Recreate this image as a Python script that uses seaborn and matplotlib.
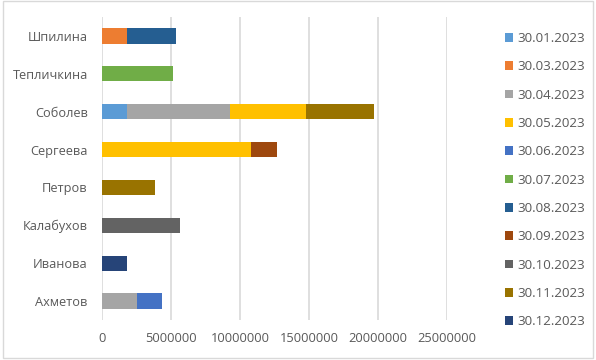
import matplotlib
matplotlib.use("Agg")
import matplotlib.pyplot as plt
import seaborn as sns
import numpy as np
import pandas as pd
from matplotlib.patches import Rectangle, Patch

categories = ["Шпилина", "Тепличкина", "Соболев", "Сергеева", "Петров", "Калабухов", "Иванова", "Ахметов"]
series_names = ["30.01.2023", "30.03.2023", "30.04.2023", "30.05.2023", "30.06.2023", "30.07.2023",
                "30.08.2023", "30.09.2023", "30.10.2023", "30.11.2023", "30.12.2023"]
#            Шпилина  Теплич   Соболев  Сергеева Петров   Калабух  Иванова  Ахметов
s_0101 = [0,       0,       1830000, 0,       0,       0,       0,       0]
s_0103 = [1830000, 0,       0,       0,       0,       0,       0,       0]
s_0104 = [0,       0,       7470000, 0,       0,       0,       0,       2560000]
s_0105 = [0,       0,       5500000, 10820000, 0,      0,       0,       0]
s_0106 = [0,       0,       0,       0,       0,       0,       0,       1810000]
s_0107 = [0,       5170000, 0,       0,       0,       0,       0,       0]
s_0108 = [3550000, 0,       0,       0,       0,       0,       0,       0]
s_0109 = [0,       0,       0,       1880000, 0,       0,       0,       0]
s_0110 = [0,       0,       0,       0,       0,       5670000, 0,       0]
s_0111 = [0,       0,       4930000, 0,       3860000, 0,       0,       0]
s_0112 = [0,       0,       0,       0,       0,       0,       1830000, 0]
series_values = [s_0101, s_0103, s_0104, s_0105, s_0106, s_0107, s_0108, s_0109, s_0110, s_0111, s_0112]
colors = ["#5B9BD5", "#ED7D31", "#A5A5A5", "#FFC000", "#4472C4", "#70AD47",
          "#255E91", "#9E480E", "#636363", "#997300", "#264478"]
x_ticks = [0, 5000000, 10000000, 15000000, 20000000, 25000000]

sns.set_theme(style="white")
plt.rcParams["font.family"] = ["Open Sans", "DejaVu Sans"]

fig = plt.figure(figsize=(5.96, 3.6), dpi=100)
ax = fig.add_axes([101.7 / 596, 1 - 320 / 360, (447.3 - 101.7) / 596, (320 - 17) / 360])

cum = np.cumsum(np.array(series_values, dtype=float), axis=0)
for i in range(len(series_names) - 1, -1, -1):
    df = pd.DataFrame({"cat": categories, "val": cum[i]})
    sns.barplot(data=df, x="val", y="cat", order=categories, color=colors[i],
                width=0.4, orient="h", ax=ax, saturation=1, linewidth=0, zorder=3)

ax.set_xlim(0, 25000000)
ax.set_ylim(len(categories) - 0.5, -0.5)
ax.set_xticks(x_ticks)
ax.set_xticklabels([str(t) for t in x_ticks])
ax.xaxis.grid(True, color="#D9D9D9", linewidth=1.2, zorder=0)
ax.yaxis.grid(False)
ax.set_axisbelow(True)
for s in ax.spines.values():
    s.set_visible(False)
ax.set_xlabel("")
ax.set_ylabel("")
ax.tick_params(axis="x", length=0, pad=9, labelsize=9.3, labelcolor="#595959")
ax.tick_params(axis="y", length=0, pad=10, labelsize=9.2, labelcolor="#595959")

handles = [Patch(facecolor=c, edgecolor="none") for c in colors]
fig.legend(handles, series_names, loc="upper left", bbox_to_anchor=(504.5 / 596, 1 - 32 / 360),
           frameon=False, fontsize=9.6, labelcolor="#595959", handlelength=0.6, handleheight=0.6,
           handletextpad=0.38, labelspacing=1.15, borderaxespad=0, borderpad=0)

fig.patches.append(Rectangle((3 / 596, 2 / 360), 590 / 596, 357 / 360, transform=fig.transFigure,
                             fill=False, edgecolor="#D9D9D9", linewidth=1))

fig.savefig("out.png", dpi=100)
